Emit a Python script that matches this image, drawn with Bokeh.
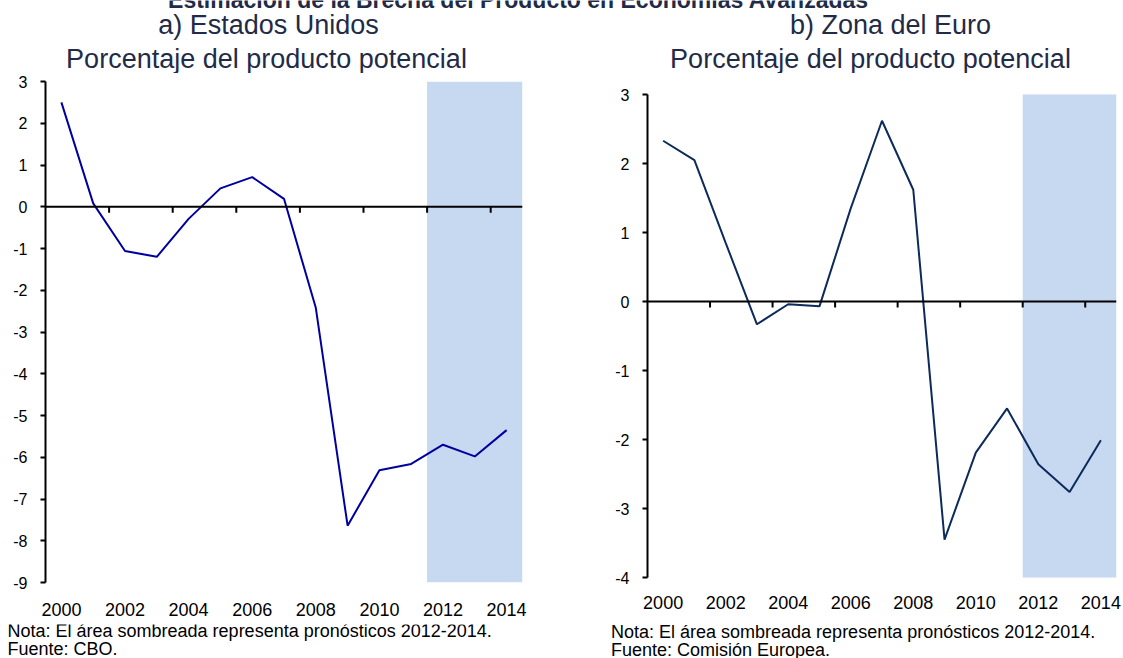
from math import pi

from bokeh.plotting import figure
from bokeh.models import Range1d, FixedTicker, Span, BoxAnnotation, Label
from bokeh.layouts import column, row
from bokeh.embed import file_html
from bokeh.resources import INLINE

# ---------------- data ----------------
YEARS = list(range(2000, 2015))
US_GAP = [2.50, 0.08, -1.06, -1.20, -0.29, 0.44, 0.71, 0.19, -2.42,
          -7.64, -6.31, -6.16, -5.70, -5.98, -5.35]
EZ_GAP = [2.33, 2.05, 0.85, -0.33, -0.04, -0.07, 1.35, 2.62, 1.62,
          -3.45, -2.19, -1.55, -2.36, -2.76, -2.01]
X_LABEL_YEARS = [2000, 2002, 2004, 2006, 2008, 2010, 2012, 2014]
X_LABELS = ["2000", "2002", "2004", "2006", "2008", "2010", "2012", "2014"]
US_Y_TICKS = [-9, -8, -7, -6, -5, -4, -3, -2, -1, 0, 1, 2, 3]
US_Y_LABELS = ["-9", "-8", "-7", "-6", "-5", "-4", "-3", "-2", "-1", "0", "1", "2", "3"]
EZ_Y_TICKS = [-4, -3, -2, -1, 0, 1, 2, 3]
EZ_Y_LABELS = ["-4", "-3", "-2", "-1", "0", "1", "2", "3"]
FORECAST_START, FORECAST_END = 2012, 2014

MAIN_TITLE = "Estimación de la Brecha del Producto en Economías Avanzadas"
US_TITLE = "a) Estados Unidos"
EZ_TITLE = "b) Zona del Euro"
SUBTITLE = "Porcentaje del producto potencial"
NOTE = "Nota: El área sombreada representa pronósticos 2012-2014."
US_SOURCE = "Fuente: CBO."
EZ_SOURCE = "Fuente: Comisión Europea."

# ---------------- style / layout ----------------
FONT = "Liberation Sans"
TITLE_COLOR = "#1f2b47"
SHADE = "#c6d9f1"
PAGE_W = 1123
HEAD_H = 73        # strip with the headings
NOTES_H = 34       # strip with the notes
BORDER_TOP = 8
FRAME_H = 501
BORDER_BOTTOM = 42
PANEL_H = BORDER_TOP + FRAME_H + BORDER_BOTTOM
BASELINE_FIX = 0.32  # empirical shift (in em) so the baseline lands where wanted


def strip(height):
    s = figure(width=PAGE_W, height=height, output_backend="svg", toolbar_location=None,
               x_axis_type=None, y_axis_type=None, min_border=0,
               x_range=Range1d(0, 1), y_range=Range1d(0, 1))
    s.outline_line_color = None
    s.grid.visible = False
    return s


def add_text(fig, text, x, y, size_px, color, align="center", style="normal"):
    fig.add_layout(Label(x=x, y=y + BASELINE_FIX * size_px, x_units="screen",
                         y_units="screen", text=text, text_align=align,
                         text_baseline="alphabetic", text_font=FONT,
                         text_font_size=f"{size_px}px", text_font_style=style,
                         text_color=color))


def panel(values, yticks, ylabels, line_color, width, left_b, right_b,
          pad_top_px, pad_bot_px, x_standoff):
    span = yticks[-1] - yticks[0]
    px_per_unit = (FRAME_H - pad_top_px - pad_bot_px) / span
    y0 = yticks[0] - pad_bot_px / px_per_unit
    y1 = yticks[-1] + pad_top_px / px_per_unit
    p = figure(width=width, height=PANEL_H, output_backend="svg", toolbar_location=None,
               x_range=Range1d(YEARS[0] - 0.5, YEARS[-1] + 0.5),
               y_range=Range1d(y0, y1),
               min_border_left=left_b, min_border_right=right_b,
               min_border_top=BORDER_TOP, min_border_bottom=BORDER_BOTTOM)
    p.outline_line_color = None
    p.grid.visible = False
    p.background_fill_color = "white"
    p.border_fill_color = "white"

    ya = p.yaxis[0]
    ya.ticker = FixedTicker(ticks=yticks)
    ya.major_label_overrides = {v: s for v, s in zip(yticks, ylabels)}
    ya.bounds = (yticks[0], yticks[-1])
    ya.axis_line_color = "black"
    ya.axis_line_width = 2
    ya.major_tick_line_color = "black"
    ya.major_tick_line_width = 2
    ya.major_tick_out = 5
    ya.major_tick_in = 0
    ya.minor_tick_line_color = None
    ya.major_label_standoff = 13
    ya.major_label_text_font = FONT
    ya.major_label_text_font_size = "16px"
    ya.major_label_text_color = "black"

    xa = p.xaxis[0]
    xa.ticker = FixedTicker(ticks=X_LABEL_YEARS)
    xa.major_label_overrides = {y: s for y, s in zip(X_LABEL_YEARS, X_LABELS)}
    xa.axis_line_color = None
    xa.major_tick_line_color = None
    xa.minor_tick_line_color = None
    xa.major_tick_out = 0
    xa.major_tick_in = 0
    xa.major_label_standoff = x_standoff
    xa.major_label_text_font = FONT
    xa.major_label_text_font_size = "18px"
    xa.major_label_text_color = "black"

    p.add_layout(BoxAnnotation(left=FORECAST_START - 0.5, right=FORECAST_END + 0.5,
                               top=yticks[-1], bottom=yticks[0],
                               fill_color=SHADE, fill_alpha=1.0, line_color=None,
                               level="underlay"))
    p.add_layout(Span(location=0, dimension="width", line_color="black", line_width=2))
    bounds = [y + 0.5 for y in YEARS[1:-1:2]]
    p.ray(x=bounds, y=[0] * len(bounds), length=6, length_units="screen",
          angle=-pi / 2, line_color="black", line_width=2)

    p.line(YEARS, values, line_color=line_color, line_width=2)
    return p


# headings (y = wanted baseline measured up from the strip's bottom)
head = strip(HEAD_H)
add_text(head, MAIN_TITLE, 518, HEAD_H - 7, 23, TITLE_COLOR, style="bold")
add_text(head, US_TITLE, 268, HEAD_H - 33, 27, TITLE_COLOR)
add_text(head, EZ_TITLE, 890, HEAD_H - 33, 27, TITLE_COLOR)
add_text(head, SUBTITLE, 266, HEAD_H - 67, 27, TITLE_COLOR)
add_text(head, SUBTITLE, 870, HEAD_H - 67, 27, TITLE_COLOR)

left = panel(US_GAP, US_Y_TICKS, US_Y_LABELS, "#0000a0", 583, 45, 61, 0, 0, 20)
right = panel(EZ_GAP, EZ_Y_TICKS, EZ_Y_LABELS, "#0c2a5c", 540, 64, 7, 13, 5, 13)

notes = strip(NOTES_H)
add_text(notes, NOTE, 7, 21.5, 18, "black", align="left")
add_text(notes, US_SOURCE, 7, 3.5, 18, "black", align="left")
add_text(notes, NOTE, 610.5, 21, 18, "black", align="left")
add_text(notes, EZ_SOURCE, 610.5, 3, 18, "black", align="left")

layout = column(head, row(left, right, spacing=0), notes, spacing=0)

with open("out.html", "w") as f:
    f.write(file_html(layout, INLINE))
